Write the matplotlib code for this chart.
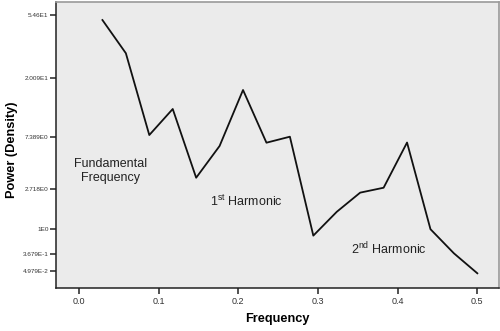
import numpy as np
import matplotlib
matplotlib.use("Agg")
import matplotlib.pyplot as plt

plt.rcParams["font.family"] = ["Liberation Sans", "DejaVu Sans"]

# spectral density estimate, frequencies k/34
frequency = [1/34, 2/34, 3/34, 4/34, 5/34, 6/34, 7/34, 8/34, 9/34,
             10/34, 11/34, 12/34, 13/34, 14/34, 15/34, 16/34, 17/34]
power = [50.6, 29.8, 7.64, 11.95, 3.45, 6.29, 16.4, 6.67, 7.42,
         0.81, 1.62, 2.53, 2.81, 6.69, 1.00, 0.375, 0.008]

ytick_vals = [54.6, 20.09, 7.389, 2.718, 1.0, 0.3679, 0.04979]
ytick_labels = ["5.46E1", "2.009E1", "7.389E0", "2.718E0", "1E0", "3.679E-1", "4.979E-2"]
xtick_vals = [0.0, 0.1, 0.2, 0.3, 0.4, 0.5]
xtick_labels = ["0.0", "0.1", "0.2", "0.3", "0.4", "0.5"]

fig = plt.figure(figsize=(5.0, 3.31), dpi=100)
ax = fig.add_axes([0.1126, 0.1308, 0.998 - 0.1126, 0.994 - 0.1308])
ax.set_facecolor("#ebebeb")

# axis is linear in ln(1 + power)
ax.set_yscale("function", functions=(np.log1p, np.expm1))

ax.plot(frequency, power, color="#111111", lw=1.3)

ax.set_xlim(-0.0285, 0.5272)
ax.set_ylim(np.expm1(-0.216), np.expm1(4.224))

ax.set_yticks(ytick_vals)
ax.set_yticklabels(ytick_labels, fontsize=4.6, color="#333333")
ax.yaxis.set_minor_locator(matplotlib.ticker.NullLocator())
ax.set_xticks(xtick_vals)
ax.set_xticklabels(xtick_labels, fontsize=6.5, color="#333333")
ax.tick_params(axis="both", direction="out", length=4, width=1.1, color="#222222", pad=1.5)
ax.tick_params(axis="x", pad=3)

for side in ["top", "right"]:
    ax.spines[side].set_color("#9a9a9a")
    ax.spines[side].set_linewidth(1.2)
for side in ["left", "bottom"]:
    ax.spines[side].set_color("#222222")
    ax.spines[side].set_linewidth(1.1)

ax.set_xlabel("Frequency", fontsize=9.2, fontweight="bold", labelpad=5)
fig.text(12 / 500, 1 - 150 / 331, "Power (Density)", fontsize=9.2, fontweight="bold",
         rotation=90, ha="center", va="center")

ax.text(0.040, np.expm1(1.598), "Fundamental\nFrequency", fontsize=9, ha="center", va="center",
        linespacing=1.3, color="#222222")
ax.text(0.210, np.expm1(1.121), r"1$^{\mathregular{st}}$ Harmonic", fontsize=9, ha="center",
        va="center", color="#222222")
ax.text(0.389, np.expm1(0.381), r"2$^{\mathregular{nd}}$ Harmonic", fontsize=9, ha="center",
        va="center", color="#222222")

fig.savefig("out.png", dpi=100)
